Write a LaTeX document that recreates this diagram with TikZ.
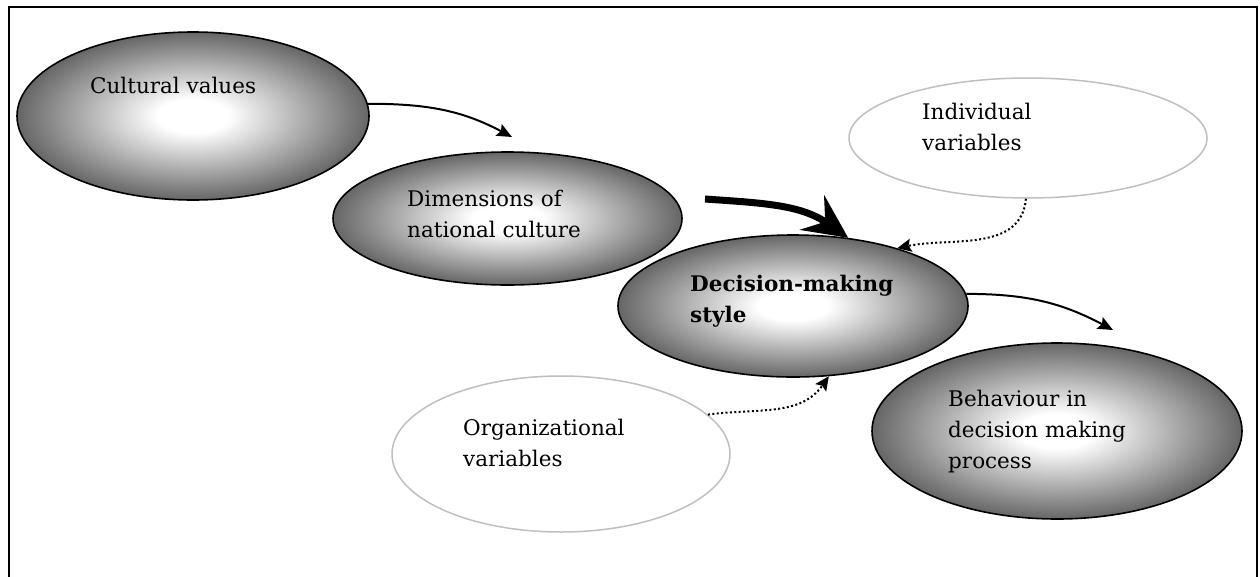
\documentclass[tikz,border=0pt]{standalone}
\usepackage{fontspec}
\setmainfont{DejaVu Serif}
\usetikzlibrary{shapes.geometric,arrows.meta}
\pgfdeclareradialshading{ovalshade}{\pgfpoint{0bp}{0bp}}{color(0bp)=(white); color(5bp)=(white); color(25bp)=(black!60); color(50bp)=(black!60)}
\begin{document}
\begin{tikzpicture}[x=1pt,y=-1pt,
  darkoval/.style={ellipse, draw=black, line width=1.6pt, shading=ovalshade, inner sep=0pt},
  lightoval/.style={ellipse, draw=black!25, line width=1.5pt, fill=white, inner sep=0pt},
  lbl/.style={anchor=base west, font=\fontsize{21.5}{31}\selectfont, align=left, inner sep=0pt},
  arr/.style={line width=2pt, -{Stealth[length=15pt,width=13pt,inset=2.5pt]}},
  dotarr/.style={line width=2pt, dash pattern=on 2pt off 2.4pt, -{Stealth[length=14pt,width=13pt,inset=2.5pt]}},
  thickarr/.style={line width=7pt, -{Stealth[length=44pt,width=42pt,inset=16pt]}}]
\useasboundingbox (0,0) rectangle (1260,576);
\draw[line width=2pt] (9,577) -- (9,7) -- (1257,7) -- (1257,577);
% ovals
\node[darkoval, minimum width=352pt, minimum height=168pt] (cv) at (193,116) {};
\node[darkoval, minimum width=349pt, minimum height=133pt] (dim) at (507.5,218.5) {};
\node[lightoval, minimum width=358pt, minimum height=120pt] (ind) at (1028,138) {};
\node[darkoval, minimum width=350pt, minimum height=142pt] (dm) at (793,306) {};
\node[lightoval, minimum width=338pt, minimum height=156pt] (org) at (561,454) {};
\node[darkoval, minimum width=370pt, minimum height=176pt] (beh) at (1057,431) {};
% labels (anchor = baseline of the last line)
\node[lbl] (cvt) at (90,93) {Cultural values};
\node[lbl] (dimt) at (407,237) {Dimensions of\\national culture};
\node[lbl, font=\fontsize{21.5}{31}\selectfont\bfseries] (dmt) at (690,322) {Decision-making\\style};
\node[lbl] (indt) at (922,150) {Individual\\variables};
\node[lbl] (orgt) at (463,466) {Organizational\\variables};
\node[lbl] (beht) at (948,468) {Behaviour in\\decision making\\process};
% free ends
\coordinate (t1) at (512,137);
\coordinate (t2) at (1113,330);
\coordinate (s3) at (705,199);
% connectors
\draw[arr] (cv.4) to[out=0, in=152] (t1);
\draw[arr] (dm.4) to[out=0, in=152] (t2);
\draw[thickarr] (s3) to[out=-4, in=145] (dm.51);
\draw[dotarr] (ind.-92) to[out=-95, in=12] (dm.29);
\draw[dotarr] (org.15) to[out=8, in=-125] (dm.-63);
\end{tikzpicture}
\end{document}
